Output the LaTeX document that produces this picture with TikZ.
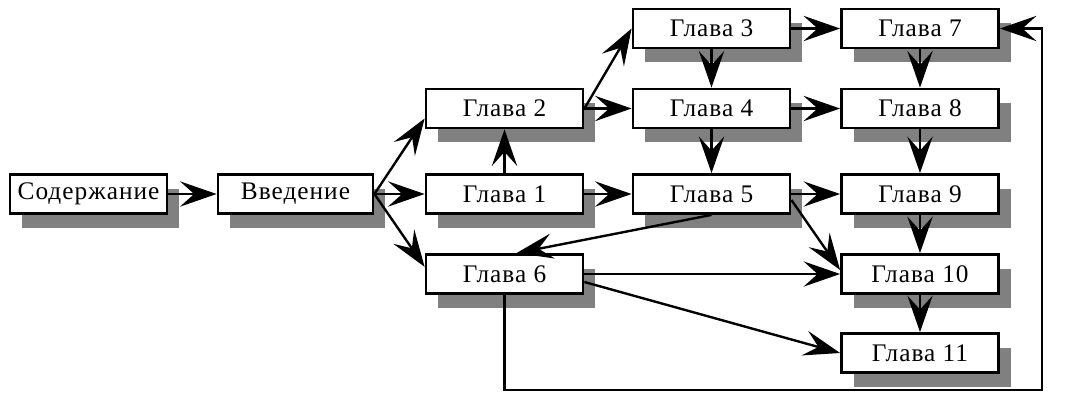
\documentclass[tikz,border=0pt]{standalone}
\usepackage{fontspec}
\setmainfont[LetterSpace=4]{Liberation Serif}
\usetikzlibrary{calc,arrows.meta,shadows}

\tikzset{
  glava/.style={draw, line width=2pt, fill=white, inner sep=0pt,
    minimum width=3.925cm, minimum height=0.975cm,
    font=\fontsize{18}{20}\selectfont,
    drop shadow={shadow xshift=0.3cm, shadow yshift=-0.35cm, fill=black!50, opacity=1}},
  strelka/.style={line width=1.7pt, -{Stealth[length=26pt, width=18pt, inset=10pt]}}
}

\begin{document}
\begin{tikzpicture}
            \useasboundingbox (0,0) rectangle (27.2,9.8);
            % Содержание и введение
            \node[glava] (sod) at (2.2125,4.95) {Содержание};
            \node[glava, minimum width=3.875cm] (vved) at (7.3875,4.95) {Введение};
            % Главы 1, 2, 6
            \node[glava] (g2) at (12.6125,7.0875) {Глава 2};
            \node[glava] (g1) at (12.6125,4.95) {Глава 1};
            \node[glava] (g6) at (12.6125,2.95) {Глава 6};
            % Главы 3, 4, 5
            \node[glava] (g3) at (17.7875,9.0875) {Глава 3};
            \node[glava] (g4) at (17.7875,7.0875) {Глава 4};
            \node[glava] (g5) at (17.7875,4.95) {Глава 5};
            % Главы 7 -- 11
            \node[glava] (g7) at (23.0,9.0875) {Глава 7};
            \node[glava] (g8) at (23.0,7.0875) {Глава 8};
            \node[glava] (g9) at (23.0,4.95) {Глава 9};
            \node[glava] (g10) at (23.0,2.95) {Глава 10};
            \node[glava] (g11) at (23.0,0.975) {Глава 11};
            % Стрелки от введения
            \draw[strelka] (sod) -- (vved);
            \draw[strelka] (vved.east) -- ([yshift=-0.25cm]g2.west);
            \draw[strelka] (vved) -- (g1);
            \draw[strelka] (vved.east) -- ([yshift=0.18cm]g6.west);
            % Второй столбец
            \draw[strelka] (g1) -- (g2);
            \draw[strelka] (g1) -- (g5);
            \draw[strelka] (g2.east) -- (g3.west);
            \draw[strelka] (g2) -- (g4);
            % Третий столбец
            \draw[strelka] (g3) -- (g4);
            \draw[strelka] (g4) -- (g5);
            \draw[strelka] (g3) -- (g7);
            \draw[strelka] (g4) -- (g8);
            \draw[strelka] (g5) -- (g9);
            \draw[strelka] ([yshift=-0.15cm]g5.east) -- ([yshift=0.1cm]g10.west);
            \draw[strelka] (g5.south) -- ([xshift=0.3cm]g6.north);
            % Из главы 6
            \draw[strelka] (g6) -- (g10);
            \draw[strelka] ([yshift=-0.2cm]g6.east) -- (g11.west);
            % Последний столбец
            \draw[strelka] (g7) -- (g8);
            \draw[strelka] (g8) -- (g9);
            \draw[strelka] (g9) -- (g10);
            \draw[strelka] (g10) -- (g11);
            % Обратная связь: глава 6 -> глава 7
            \coordinate (niz) at (26.05,0.05);
            \draw[strelka] (g6.south) |- (niz) |- (g7.east);
\end{tikzpicture}
\end{document}
